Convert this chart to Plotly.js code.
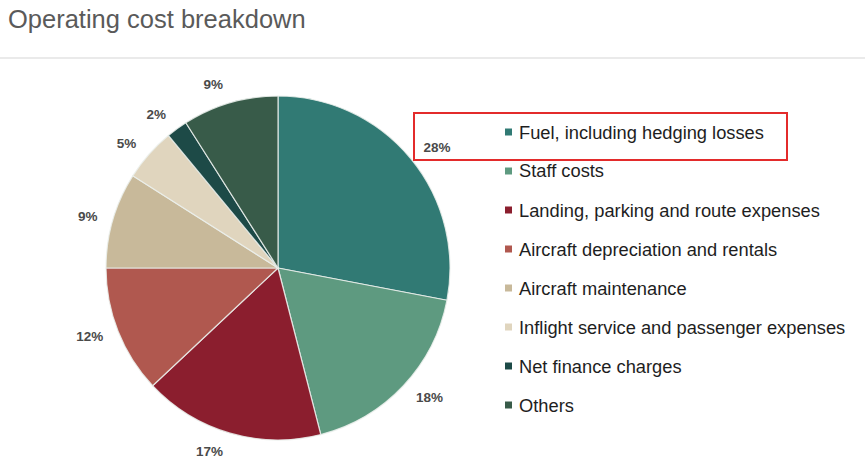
<!DOCTYPE html>
<html><head><meta charset="utf-8">
<script src="https://cdn.plot.ly/plotly-3.0.1.min.js"></script>
<style>html,body{margin:0;padding:0;background:#fff}</style>
</head><body>
<div id="chart" style="width:865px;height:465px"></div>
<script>
const categories = [
  "Fuel, including hedging losses",
  "Staff costs",
  "Landing, parking and route expenses",
  "Aircraft depreciation and rentals",
  "Aircraft maintenance",
  "Inflight service and passenger expenses",
  "Net finance charges",
  "Others"
];
const shares = [28, 18, 17, 12, 9, 5, 2, 9];
const colors = ["#317a74", "#5e9a80", "#8b1e2e", "#b0584f", "#c8b99a", "#e0d5be", "#1d4a47", "#385b49"];
const chartTitle = "Operating cost breakdown";

const W = 865, H = 465;
const px = x => x / W;
const py = y => 1 - y / H;

const cx = 278, cy = 268, r = 172, rLabel = 184;

const shapes = [
  {type: "line", xref: "paper", yref: "paper", x0: 0, x1: 1, y0: py(58), y1: py(58),
   line: {color: "#e3e3e3", width: 1.5}},
  {type: "rect", xref: "paper", yref: "paper", x0: px(414), x1: px(787), y0: py(113), y1: py(160),
   line: {color: "#e32b2b", width: 2}}
];
const annotations = [
  {text: chartTitle, xref: "paper", yref: "paper", x: px(6), y: py(19), xanchor: "left", yanchor: "middle",
   showarrow: false, font: {family: "Liberation Sans, Arial, sans-serif", size: 25.5, color: "#5a5a5a"}}
];
categories.forEach((c, i) => {
  const yc = 132 + 39 * i;
  shapes.push({type: "rect", xref: "paper", yref: "paper",
    x0: px(505), x1: px(512), y0: py(yc - 3.5), y1: py(yc + 3.5),
    fillcolor: colors[i], line: {width: 0}});
  annotations.push({text: c, xref: "paper", yref: "paper", x: px(517), y: py(yc),
    xanchor: "left", yanchor: "middle", showarrow: false,
    font: {family: "Liberation Sans, Arial, sans-serif", size: 18.3, color: "#1e1e1e"}});
});

const pieSlices = {
  type: "pie",
  labels: categories,
  values: shares,
  sort: false,
  direction: "clockwise",
  rotation: 0,
  marker: {colors: colors, line: {color: "rgba(235,240,236,0.85)", width: 1.2}},
  textinfo: "none",
  showlegend: false,
  hoverinfo: "label+percent",
  domain: {x: [px(cx - r), px(cx + r)], y: [py(cy + r), py(cy - r)]}
};

const pieLabels = {
  type: "pie",
  labels: categories,
  values: shares,
  sort: false,
  direction: "clockwise",
  rotation: 0,
  marker: {colors: categories.map(() => "rgba(0,0,0,0)"), line: {width: 0}},
  texttemplate: "%{value}%",
  textposition: "outside",
  outsidetextfont: {family: "Liberation Sans, Arial, sans-serif", size: 13.5, color: "#4a4a4a", weight: 700},
  showlegend: false,
  hoverinfo: "skip",
  domain: {x: [px(cx - rLabel), px(cx + rLabel)], y: [py(cy + rLabel), py(cy - rLabel)]}
};

Plotly.newPlot("chart", [pieSlices, pieLabels], {
  width: W, height: H,
  margin: {l: 0, r: 0, t: 0, b: 0},
  paper_bgcolor: "#ffffff",
  showlegend: false,
  shapes: shapes,
  annotations: annotations
}, {displayModeBar: false, staticPlot: true});
</script>
</body></html>
